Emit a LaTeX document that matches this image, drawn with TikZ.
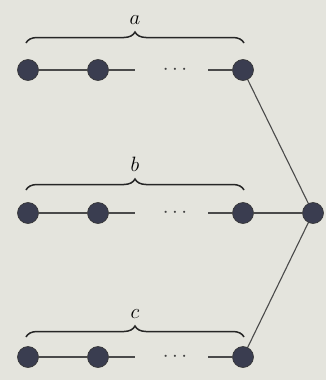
\documentclass[tikz,border=0pt]{standalone}
\usetikzlibrary{decorations.pathreplacing}
\definecolor{bg}{HTML}{E4E4DD}
\definecolor{dotc}{HTML}{3A3D50}
\definecolor{linec}{HTML}{4A4A4A}
\begin{document}
\begin{tikzpicture}[x=1pt,y=-1pt,
  vtx/.style={circle,fill=dotc,draw=black!80,line width=0.6pt,minimum size=21pt,inner sep=0pt},
  edge/.style={draw=linec,line width=1.4pt},
  thin edge/.style={draw=linec,line width=1.1pt},
  brc/.style={decorate,decoration={brace,amplitude=11pt},line width=1.5pt,draw=black!85},
  lab/.style={font=\fontsize{22}{26}\selectfont},
  dts/.style={font=\fontsize{22}{26}\selectfont,text=black!75}]
\fill[bg] (0,0) rectangle (326,380);
\useasboundingbox (0,0) rectangle (326,380);
\foreach \r/\y/\by/\l in {A/70/43/a, B/213/190/b, C/357/337/c}{
  \node[vtx] (\r1) at (28,\y) {};
  \node[vtx] (\r2) at (98,\y) {};
  \node[vtx] (\r3) at (243,\y) {};
  \coordinate (\r e1) at (135,\y);
  \coordinate (\r e2) at (208,\y);
  \node[dts] (\r d) at (175,\y) {$\cdots$};
  \draw[edge] (\r1) -- (\r2);
  \draw[edge] (\r2) -- (\r e1);
  \draw[edge] (\r e2) -- (\r3);
  \coordinate (\r bl) at (26,\by);
  \coordinate (\r br) at (244,\by);
  \draw[brc] (\r bl) -- node[lab,above=16pt,inner sep=2pt] (\r L) {$\l$} (\r br);
}
\node[vtx] (R) at (313,213) {};
\draw[thin edge] (A3) -- (R);
\draw[edge] (B3) -- (R);
\draw[thin edge] (C3) -- (R);
\end{tikzpicture}
\end{document}
